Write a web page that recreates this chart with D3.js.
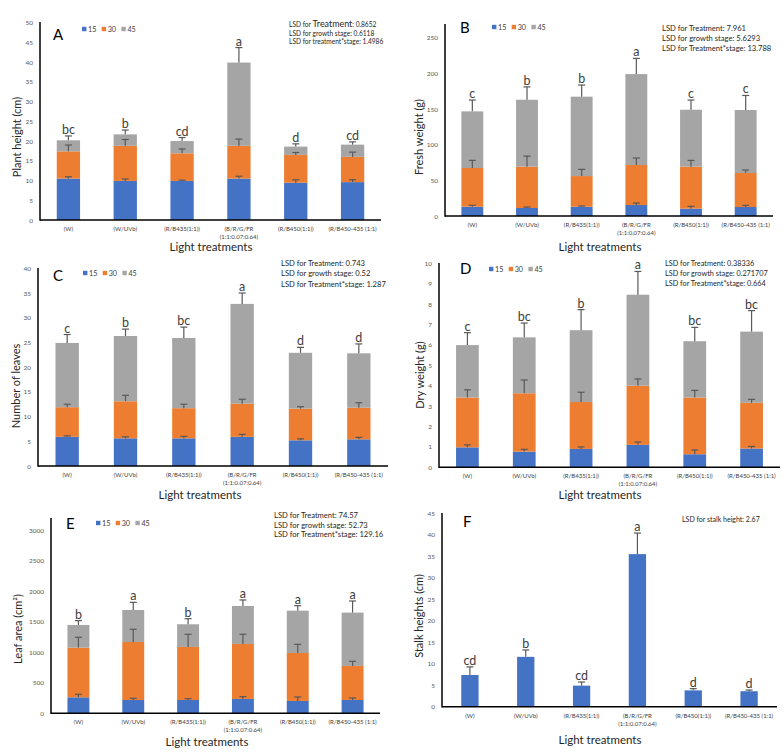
<!DOCTYPE html>
<html><head><meta charset="utf-8">
<script src="https://cdn.jsdelivr.net/npm/d3@7"></script>
<style>
body{margin:0;background:#fff}
svg{display:block}
text{font-family:Lato,'Open Sans',sans-serif}
</style>
</head><body>
<svg id="chart" width="784" height="753"></svg>
<script>
// ---------- DATA ----------
const categories = ["(W)", "(W/UVb)", "(R/B435(1:1))", "(B/R/G/FR\n(1:1:0.07:0.64)", "(R/B450(1:1))", "(R/B450-435 (1:1)"];
const stages = ["15", "30", "45"];

// A: Plant height (cm) - stacked segments
const plantHeight15 = [10.5, 9.9, 9.9, 10.5, 9.45, 9.6];
const plantHeight30 = [6.9, 8.9, 7.0, 8.3, 7.05, 6.4];
const plantHeight45 = [2.8, 2.9, 3.1, 21.1, 2.1, 3.1];
const plantHeightErr15 = [0.45, 0.5, 0.2, 0.6, 0.75, 0.6];
const plantHeightErr30 = [1.6, 1.6, 1.1, 1.7, 0.6, 1.2];
const plantHeightErr45 = [1.1, 1.1, 0.9, 3.8, 0.7, 0.7];
const plantHeightLetters = ["bc", "b", "cd", "a", "d", "cd"];
const plantHeightTicks = [0, 5, 10, 15, 20, 25, 30, 35, 40, 45, 50];

// B: Fresh weight (g)
const fresh15 = [13, 11.2, 13, 15.4, 10.3, 12.6];
const fresh30 = [54.3, 58, 43, 56.1, 58.9, 47.7];
const fresh45 = [79.4, 93.8, 111.3, 127.5, 79.8, 88.3];
const freshErr15 = [2, 1.4, 1, 2.8, 3.2, 2.4];
const freshErr30 = [10.7, 14.8, 9.4, 9.8, 8.8, 4.2];
const freshErr45 = [15.9, 18, 16.3, 22, 13.6, 20.4];
const freshLetters = ["c", "b", "b", "a", "c", "c"];
const freshTicks = [0, 50, 100, 150, 200, 250];

// C: Number of leaves
const leaves15 = [5.9, 5.6, 5.6, 5.9, 5.2, 5.4];
const leaves30 = [6.0, 7.5, 6.1, 6.7, 6.4, 6.4];
const leaves45 = [13.0, 13.2, 14.2, 20.2, 11.3, 11.0];
const leavesErr15 = [0.2, 0.3, 0.4, 0.5, 0.3, 0.4];
const leavesErr30 = [0.6, 1.2, 0.8, 0.9, 0.4, 1.0];
const leavesErr45 = [1.7, 1.4, 2.2, 2.2, 1.1, 1.9];
const leavesLetters = ["c", "b", "bc", "a", "d", "d"];
const leavesTicks = [0, 5, 10, 15, 20, 25, 30, 35, 40];

// D: Dry weight (g)
const dry15 = [0.98, 0.77, 0.9, 1.1, 0.64, 0.92];
const dry30 = [2.44, 2.86, 2.3, 2.9, 2.78, 2.24];
const dry45 = [2.57, 2.74, 3.52, 4.46, 2.76, 3.49];
const dryErr15 = [0.12, 0.11, 0.1, 0.14, 0.21, 0.1];
const dryErr30 = [0.38, 0.65, 0.48, 0.33, 0.35, 0.17];
const dryErr45 = [0.61, 0.7, 1.01, 1.14, 0.68, 1.03];
const dryLetters = ["c", "bc", "b", "a", "bc", "bc"];
const dryTicks = [0, 1, 2, 3, 4, 5, 6, 7, 8, 9, 10];

// E: Leaf area (cm2)
const area15 = [262, 218, 218, 235, 202, 218];
const area30 = [813, 949, 868, 900, 785, 557];
const area45 = [371, 524, 371, 622, 693, 873];
const areaErr15 = [49, 27, 22, 38, 65, 33];
const areaErr30 = [169, 208, 207, 158, 142, 76];
const areaErr45 = [71, 125, 92, 98, 82, 190];
const areaLetters = ["b", "a", "b", "a", "a", "a"];
const areaTicks = [0, 500, 1000, 1500, 2000, 2500, 3000];

// F: Stalk heights (cm)
const stalk = [7.37, 11.6, 4.9, 35.5, 3.8, 3.6];
const stalkErr = [1.9, 1.6, 0.84, 4.9, 0.4, 0.28];
const stalkLetters = ["cd", "b", "cd", "a", "d", "d"];
const stalkTicks = [0, 5, 10, 15, 20, 25, 30, 35, 40, 45];

const colors = {"15": "#4472C4", "30": "#ED7D31", "45": "#A5A5A5"};

// ---------- PANELS ----------
const panels = [
  {id:"A", series:[plantHeight15, plantHeight30, plantHeight45], errs:[plantHeightErr15, plantHeightErr30, plantHeightErr45],
   letters:plantHeightLetters, ticks:plantHeightTicks, vmax:50, ylabel:"Plant height (cm)",
   lsd:[["LSD for ", "Treatment", ": 0.8652"], ["LSD for growth stage: 0.6118"], ["LSD for treatment*stage: 1.4986"]],
   L:{x0:40, x1:381, y0:220, yTop:22.7, axisTop:22, pad:0.59, lx:17, ly:137, ttx:211, tty:251, idx:53, idy:40, legx:82, legy:29, lsdx:289, lsdy:27, lsdfs:6.6, lsdgap:8.5}},
  {id:"B", series:[fresh15, fresh30, fresh45], errs:[freshErr15, freshErr30, freshErr45],
   letters:freshLetters, ticks:freshTicks, vmax:250, ylabel:"Fresh weight (g)",
   lsd:[["LSD for Treatment: 7.961"], ["LSD for growth stage: 5.6293"], ["LSD for Treatment*stage: 13.788"]],
   L:{x0:445, x1:773, y0:216, yTop:37.7, axisTop:24, pad:0.6, lx:419, ly:137, ttx:600, tty:251, idx:460, idy:33, legx:492, legy:27, lsdx:662, lsdy:31, lsdfs:7.6, lsdgap:10}},
  {id:"C", series:[leaves15, leaves30, leaves45], errs:[leavesErr15, leavesErr30, leavesErr45],
   letters:leavesLetters, ticks:leavesTicks, vmax:40, ylabel:"Number of leaves",
   lsd:[["LSD for Treatment: 0.743"], ["LSD for growth stage: 0.52"], ["LSD for Treatment*stage: 1.287"]],
   L:{x0:38, x1:388, y0:466, yTop:268.3, axisTop:268, pad:0.6, lx:16, ly:386, ttx:200, tty:499, idx:53, idy:281, legx:83, legy:273, lsdx:281, lsdy:266, lsdfs:7.6, lsdgap:10.3}},
  {id:"D", series:[dry15, dry30, dry45], errs:[dryErr15, dryErr30, dryErr45],
   letters:dryLetters, ticks:dryTicks, vmax:10, ylabel:"Dry weight (g)",
   lsd:[["LSD for Treatment: 0.38336"], ["LSD for growth stage: 0.271707"], ["LSD for Treatment*stage: 0.664"]],
   L:{x0:439, x1:780, y0:467.3, yTop:263.3, axisTop:263, pad:0.6, lx:420, ly:375, ttx:600, tty:499, idx:460, idy:274, legx:489, legy:269, lsdx:665, lsdy:266, lsdfs:7.3, lsdgap:10}},
  {id:"E", series:[area15, area30, area45], errs:[areaErr15, areaErr30, areaErr45],
   letters:areaLetters, ticks:areaTicks, vmax:3000, ylabel:"Leaf area (cm²)",
   lsd:[["LSD for Treatment: 74.57"], ["LSD for growth stage: 52.73"], ["LSD for Treatment*stage: 129.16"]],
   L:{x0:51, x1:380, y0:713.3, yTop:530, axisTop:518, pad:0.6, lx:18, ly:629, ttx:207, tty:746, idx:66, idy:529, legx:96, legy:523, lsdx:274, lsdy:518, lsdfs:7.6, lsdgap:9.6}},
  {id:"F", series:[stalk], errs:[stalkErr],
   letters:stalkLetters, ticks:stalkTicks, vmax:45, ylabel:"Stalk heights (cm)",
   lsd:[["LSD for stalk height: 2.67"]],
   L:{x0:442, x1:777, y0:706.7, yTop:513.3, axisTop:513, pad:0.69, lx:419, ly:616, ttx:600, tty:744, idx:463, idy:527, legx:null, legy:0, lsdx:682, lsdy:522, lsdfs:7.0, lsdgap:10}}
];

const svg = d3.select("#chart");

function drawPanel(p) {
  const L = p.L;
  const g = svg.append("g");
  const x = d3.scaleBand().domain(categories).range([L.x0, L.x1]).paddingInner(L.pad).paddingOuter(L.pad / 2);
  const y = d3.scaleLinear().domain([0, p.vmax]).range([L.y0, L.yTop]);
  const keys = p.series.map((s, i) => stages[i]);
  const rows = categories.map((c, i) => {
    const r = {cat: c};
    keys.forEach((k, j) => { r[k] = p.series[j][i]; });
    return r;
  });
  const stacked = d3.stack().keys(keys)(rows);

  // bars
  stacked.forEach((layer, j) => {
    g.append("g").selectAll("rect").data(layer).join("rect")
      .attr("x", d => x(d.data.cat))
      .attr("width", x.bandwidth())
      .attr("y", d => y(d[1]))
      .attr("height", d => y(d[0]) - y(d[1]))
      .attr("fill", colors[layer.key]);
  });

  // error bars (upward only)
  const capW = 7;
  stacked.forEach((layer, j) => {
    const eg = g.append("g").attr("stroke", "#595959").attr("stroke-width", 1.2).attr("fill", "none");
    layer.forEach((d, i) => {
      const cx = x(d.data.cat) + x.bandwidth() / 2;
      const top = y(d[1] + p.errs[j][i]);
      eg.append("line").attr("x1", cx).attr("x2", cx).attr("y1", y(d[1])).attr("y2", top);
      eg.append("line").attr("x1", cx - capW / 2).attr("x2", cx + capW / 2).attr("y1", top).attr("y2", top);
    });
  });

  // significance letters
  const last = stacked[stacked.length - 1];
  const lastErr = p.errs[p.errs.length - 1];
  g.append("g").selectAll("text").data(last).join("text")
    .attr("x", d => x(d.data.cat) + x.bandwidth() / 2)
    .attr("y", (d, i) => y(d[1] + lastErr[i]) - 2)
    .attr("text-anchor", "middle")
    .attr("font-size", 12.5)
    .attr("fill", "#404040")
    .text((d, i) => p.letters[i]);

  // y axis
  const yAxis = d3.axisLeft(y).tickValues(p.ticks).tickSize(0).tickPadding(7).tickFormat(d3.format("d"));
  const ya = g.append("g").attr("transform", `translate(${L.x0},0)`).call(yAxis);
  ya.select(".domain").remove();
  ya.selectAll("text").attr("font-size", 6.5).attr("fill", "#595959").style("font-family", "Lato,'Open Sans',sans-serif");
  g.append("line").attr("x1", L.x0).attr("x2", L.x0).attr("y1", L.axisTop).attr("y2", L.y0 + 0.75)
    .attr("stroke", "#000").attr("stroke-width", 1.5);

  // x axis
  const xAxis = d3.axisBottom(x).tickSize(0).tickPadding(0).tickFormat("");
  const xa = g.append("g").attr("transform", `translate(0,${L.y0})`).call(xAxis);
  xa.select(".domain").remove();
  xa.selectAll(".tick").each(function(d) {
    const t = d3.select(this).append("text").attr("fill", "#404040").attr("font-size", 6)
      .attr("text-anchor", "middle").style("font-family", "Lato,'Open Sans',sans-serif");
    d.split("\n").forEach((line, k) => {
      t.append("tspan").attr("x", 0).attr("y", 11 + k * 8).text(line);
    });
  });
  g.append("line").attr("x1", L.x0).attr("x2", L.x1).attr("y1", L.y0).attr("y2", L.y0)
    .attr("stroke", "#000").attr("stroke-width", 1.5);

  // axis titles
  g.append("text").attr("x", L.ttx).attr("y", L.tty).attr("text-anchor", "middle")
    .attr("font-size", 11.5).attr("fill", "#262626").text("Light treatments");
  g.append("text").attr("transform", `translate(${L.lx},${L.ly}) rotate(-90)`).attr("text-anchor", "middle")
    .attr("dy", "0.35em").attr("font-size", 11).attr("fill", "#262626").text(p.ylabel);

  // panel id
  g.append("text").attr("x", L.idx).attr("y", L.idy).attr("font-size", 15).attr("fill", "#000").text(p.id);

  // legend
  if (L.legx !== null) {
    const lg = g.append("g").attr("transform", `translate(${L.legx},${L.legy})`);
    stages.forEach((s, i) => {
      const gx = i * 19.7;
      lg.append("rect").attr("x", gx).attr("y", -2.2).attr("width", 4.4).attr("height", 4.4).attr("fill", colors[s]);
      lg.append("text").attr("x", gx + 6).attr("y", 0).attr("dy", "0.35em").attr("font-size", 7.2).attr("fill", "#404040").text(s);
    });
  }

  // LSD annotations
  p.lsd.forEach((parts, k) => {
    const t = g.append("text").attr("x", L.lsdx).attr("y", L.lsdy + k * L.lsdgap)
      .attr("font-size", L.lsdfs).attr("fill", "#262626");
    parts.forEach((part, m) => {
      const ts = t.append("tspan").text(part);
      if (parts.length > 1 && m === 1) ts.attr("font-size", L.lsdfs * 1.35);
    });
  });
}

panels.forEach(drawPanel);
</script>
</body></html>
